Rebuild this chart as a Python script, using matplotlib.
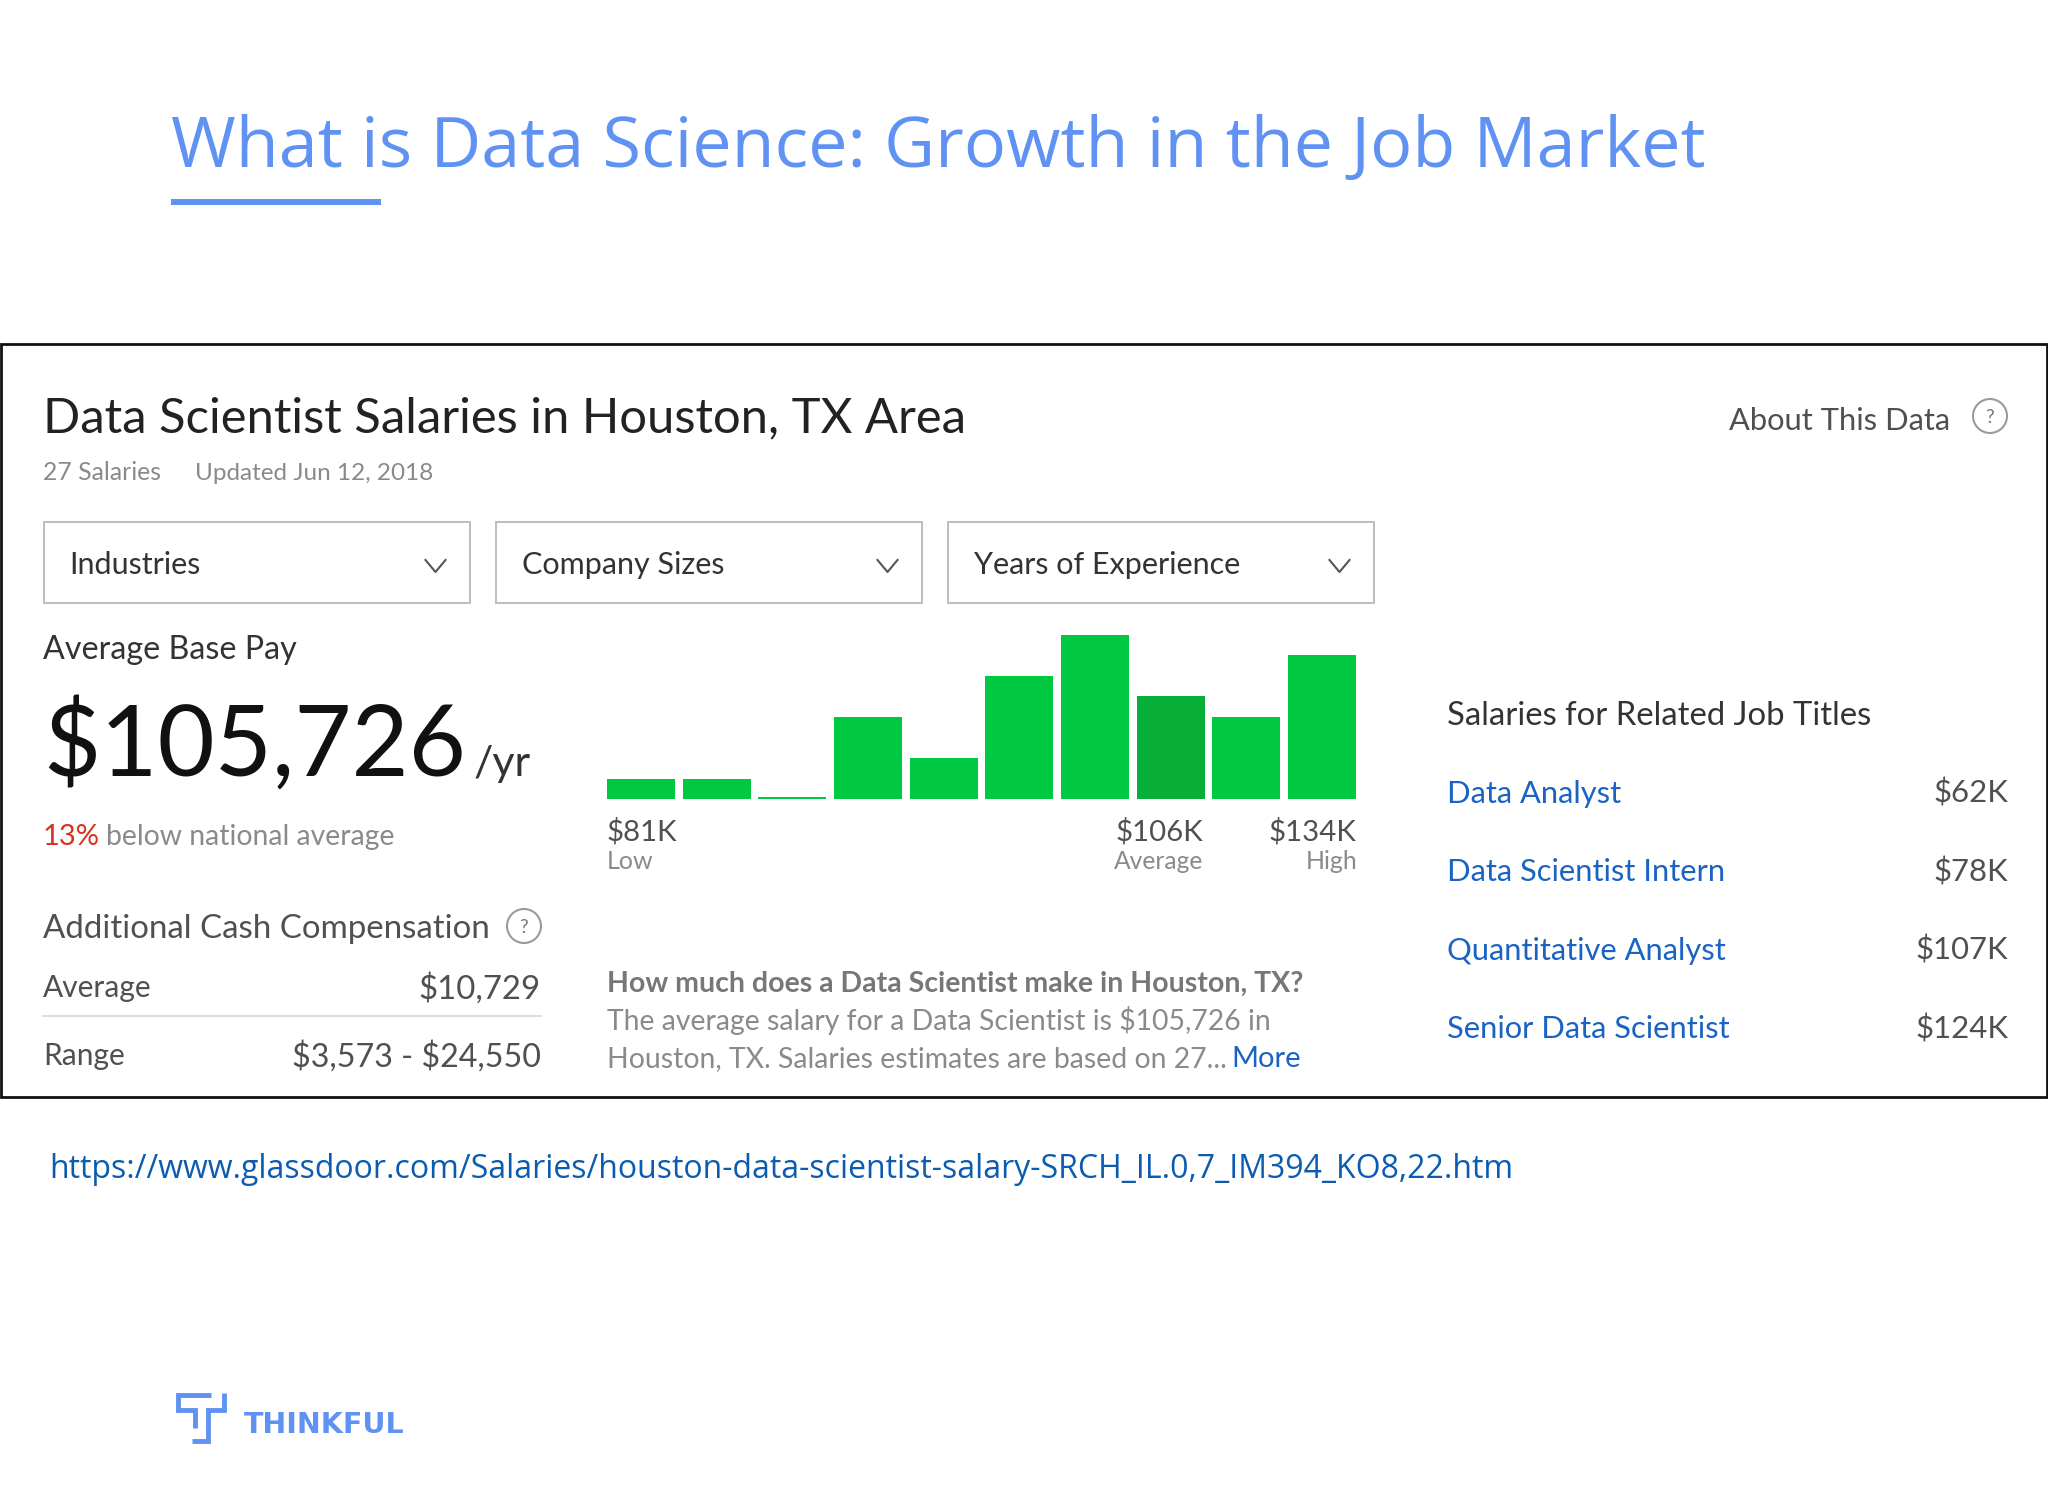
import matplotlib
matplotlib.use('Agg')
import matplotlib.pyplot as plt
from matplotlib.patches import Rectangle, Circle

W, H = 2048, 1494
BLUE = '#5f92f2'
LINK = '#1a63c4'
DARK = '#222222'
MID = '#505050'
GRAY = '#8a8a8a'

# histogram
bar_counts = [1, 1, 0.1, 4, 2, 6, 8, 5, 4, 7]
avg_bar = 7

filters = ['Industries', 'Company Sizes', 'Years of Experience']
related_titles = ['Data Analyst', 'Data Scientist Intern', 'Quantitative Analyst', 'Senior Data Scientist']
related_pay = [r'\$62K', r'\$78K', r'\$107K', r'\$124K']

fig = plt.figure(figsize=(20.48, 14.94), dpi=100, facecolor='white')
ax = fig.add_axes([0, 0, 1, 1])
ax.set_xlim(0, W)
ax.set_ylim(H, 0)
ax.axis('off')


def txt(x, y, s, size, color=DARK, ha='left', font='Lato', weight='normal'):
    ax.text(x, y, s, fontsize=size, color=color, ha=ha, va='baseline', family=font, weight=weight)


def help_icon(x, y):
    ax.add_patch(Circle((x, y), 17, fill=False, ec='#9a9a9a', lw=1.5))
    txt(x, y + 7, '?', 14, '#777777', ha='center')


# header
txt(171, 167, 'What is Data Science: Growth in the Job Market', 50.5, BLUE, font='Open Sans')
ax.add_patch(Rectangle((171, 199), 210, 6, color=BLUE, lw=0))

# panel
ax.add_patch(Rectangle((1, 344), 2046, 753, fill=False, ec='#111111', lw=2))
txt(43, 432, 'Data Scientist Salaries in Houston, TX Area', 35.3)
txt(43, 480, '27 Salaries', 17.8, GRAY)
txt(195, 480, 'Updated Jun 12, 2018', 17.5, GRAY)
txt(1729, 430, 'About This Data', 22.2, MID)
help_icon(1990, 416)

# dropdowns
for i, label in enumerate(filters):
    x0 = 43.5 + i * 452
    ax.add_patch(Rectangle((x0, 522), 426, 81, fill=False, ec='#bdbdbd', lw=1.4))
    txt(x0 + 26, 574, label, 22, '#333333')
    ax.plot([x0 + 382, x0 + 392, x0 + 402], [560, 572, 560], color='#555555', lw=1.5)

# left column
txt(43, 659, 'Average Base Pay', 23.2, '#333333')
txt(43, 776, r'\$105,726', 71, '#111111')
txt(474, 776, '/yr', 31, '#333333')
txt(43, 845, '13%', 21, '#d8321f')
txt(106, 845, 'below national average', 20.4, GRAY)
txt(43, 938, 'Additional Cash Compensation', 23.8, MID)
help_icon(524, 926)
txt(43, 997, 'Average', 21.5, MID)
txt(541, 999, r'\$10,729', 23.8, MID, ha='right')
ax.plot([43, 541], [1016, 1016], color='#dddddd', lw=1.5)
txt(43, 1065, 'Range', 21.5, MID)
txt(541, 1067, r'\$3,573 - \$24,550', 23.2, MID, ha='right')

# histogram bars
ax_bars = fig.add_axes([607 / W, 1 - 799 / H, 749 / W, 164 / H])
ax_bars.set_xlim(-0.45, 9.45)
ax_bars.set_ylim(0, 8)
ax_bars.axis('off')
colors = ['#00c941'] * len(bar_counts)
colors[avg_bar] = '#07ae38'
ax_bars.bar(range(len(bar_counts)), bar_counts, width=0.9, color=colors)

txt(607, 841, r'\$81K', 21.2, MID)
txt(607, 869, 'Low', 18, GRAY)
txt(1159, 841, r'\$106K', 21.2, MID, ha='center')
txt(1159, 869, 'Average', 17.7, GRAY, ha='center')
txt(1356, 841, r'\$134K', 21.2, MID, ha='right')
txt(1357, 869, 'High', 18, GRAY, ha='right')

# description
txt(607, 992, 'How much does a Data Scientist make in Houston, TX?', 20.5, '#777777', weight='bold')
txt(607, 1030, r'The average salary for a Data Scientist is \$105,726 in', 20.4, GRAY)
txt(607, 1067, 'Houston, TX. Salaries estimates are based on 27...', 20.4, GRAY)
txt(1231, 1067, 'More', 21, LINK)

# related titles
txt(1447, 725, 'Salaries for Related Job Titles', 23.7, '#333333')
for i, (t, pay) in enumerate(zip(related_titles, related_pay)):
    y = 803 + i * 78.4
    txt(1447, y, t, 22.2, LINK)
    txt(2008, y, pay, 22.4, MID, ha='right')

# url
txt(49, 1178, 'https://www.glassdoor.com/Salaries/houston-data-scientist-salary-SRCH_IL.0,7_IM394_KO8,22.htm',
    23, '#0b5cb0', font='Open Sans')

# logo
ax.plot([211, 178, 178, 195, 195], [1395, 1395, 1410, 1410, 1428], color=BLUE, lw=3.5,
        solid_joinstyle='miter', solid_capstyle='butt')
ax.plot([224, 224, 208, 208, 192], [1393, 1410, 1410, 1441, 1441], color=BLUE, lw=3.5,
        solid_joinstyle='miter', solid_capstyle='butt')
txt(244, 1433, 'THINKFUL', 20.5, BLUE, font='DejaVu Sans', weight='bold')

fig.savefig('out.png', dpi=100)
